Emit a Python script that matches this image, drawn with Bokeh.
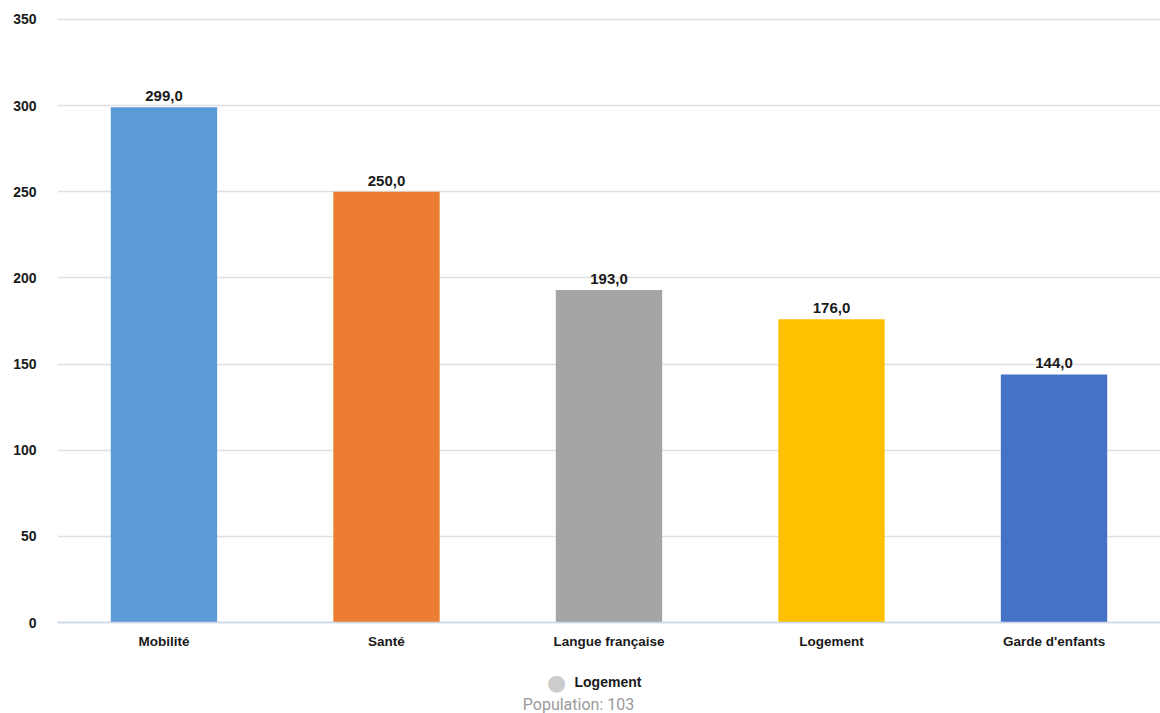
from bokeh.plotting import figure
from bokeh.models import FactorRange, Range1d, ColumnDataSource, Label, FixedTicker
from bokeh.embed import file_html
from bokeh.resources import INLINE
from bokeh.core.properties import value

categories = ["Mobilité", "Santé", "Langue française", "Logement", "Garde d'enfants"]
values = [299.0, 250.0, 193.0, 176.0, 144.0]
colors = ["#5B9BD5", "#ED7D31", "#A5A5A5", "#FFC000", "#4472C4"]
y_ticks = [0, 50, 100, 150, 200, 250, 300, 350]
legend_label = "Logement"
subtitle = "Population: 103"

labels = [f"{v:.1f}".replace(".", ",") for v in values]
src = ColumnDataSource(dict(cat=categories, val=values, color=colors, lab=labels))

p = figure(
    x_range=FactorRange(factors=categories, range_padding=-0.0086),
    y_range=Range1d(-52.8, 351.74),
    width=1160, height=713,
    output_backend="svg", toolbar_location=None,
    min_border_left=57, min_border_right=0, min_border_top=16, min_border_bottom=0,
)
p.outline_line_color = None
p.background_fill_color = "white"
p.border_fill_color = "white"

p.vbar(x="cat", top="val", width=0.478, color="color", source=src, line_color=None)
p.text(x="cat", y="val", text="lab", source=src, text_align="center", text_baseline="bottom",
       y_offset=-6, text_font=value("Liberation Sans"), text_font_style="bold",
       text_font_size="15px", text_color="#1a1a1a")

p.xgrid.grid_line_color = None
p.ygrid.grid_line_color = "#e0e0e0"
p.ygrid.grid_line_width = 1.5

p.yaxis.ticker = FixedTicker(ticks=y_ticks)
p.yaxis.axis_line_color = None
p.yaxis.major_tick_line_color = None
p.yaxis.minor_tick_line_color = None
p.yaxis.major_tick_out = 0
p.yaxis.major_label_standoff = 21
p.yaxis.major_label_text_font = "Liberation Sans"
p.yaxis.major_label_text_font_style = "bold"
p.yaxis.major_label_text_font_size = "14px"
p.yaxis.major_label_text_color = "#1a1a1a"

p.xaxis.fixed_location = 0
p.xaxis.axis_line_color = "#ccd6eb"
p.xaxis.axis_line_width = 1.5
p.xaxis.major_tick_line_color = None
p.xaxis.minor_tick_line_color = None
p.xaxis.major_tick_out = 0
p.xaxis.major_label_standoff = 11
p.xaxis.major_label_text_font = "Liberation Sans"
p.xaxis.major_label_text_font_style = "bold"
p.xaxis.major_label_text_font_size = "13.5px"
p.xaxis.major_label_text_color = "#1a1a1a"

p.add_layout(Label(x=2.264, y=-34.8, text="●", text_align="center", text_baseline="middle",
                   text_font_size="22px", text_color="#cccccc", text_font="DejaVu Sans"))
p.add_layout(Label(x=2.345, y=-34.8, text=legend_label, text_align="left", text_baseline="middle",
                   text_font_size="14px", text_font_style="bold", text_color="#1a1a1a",
                   text_font="Liberation Sans"))
p.add_layout(Label(x=2.363, y=-47.6, text=subtitle, text_align="center", text_baseline="middle",
                   text_font_size="16px", text_color="#9a9a9a", text_font="Roboto"))

open("out.html", "w").write(file_html(p, INLINE))
